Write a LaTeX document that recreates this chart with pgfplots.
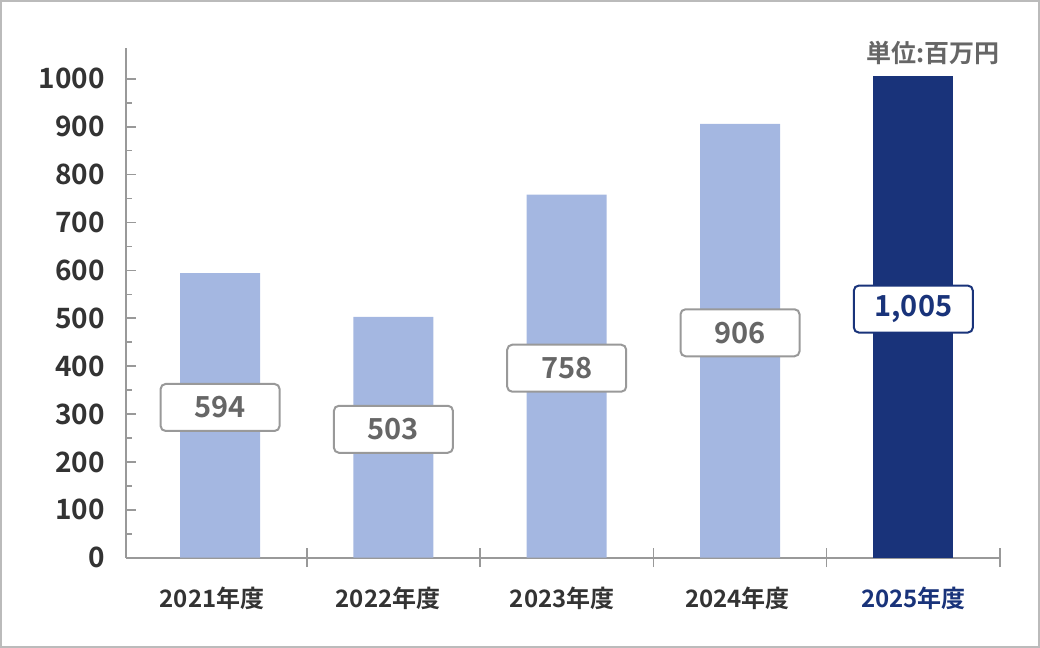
\documentclass[border=0pt]{standalone}
\usepackage{fontspec}
\setmainfont{Noto Sans CJK JP}[BoldFont={Noto Sans CJK JP Bold}]
\usepackage{pgfplots}
\pgfplotsset{compat=1.18}
\definecolor{lightbar}{HTML}{A4B7E1}
\definecolor{navy}{HTML}{19337A}
\definecolor{axisgray}{HTML}{999999}
\definecolor{ticktext}{HTML}{333333}
\definecolor{boxtext}{HTML}{666666}
\definecolor{boxgray}{HTML}{999999}
\definecolor{framegray}{HTML}{BBBBBB}
\begin{document}
\begin{tikzpicture}
\useasboundingbox (-63pt,-45.15pt) rectangle (457pt,278.85pt);
\draw[framegray, line width=1pt] (-62.5pt,-44.65pt) rectangle (456.5pt,278.35pt);
\begin{axis}[
  at={(0,0)}, anchor=south west,
  scale only axis, width=437pt, height=255pt,
  xmin=-0.543, xmax=4.5, ymin=0, ymax=1065,
  clip=false,
  axis x line=bottom, axis y line=left,
  axis line style={-, draw=axisgray, line width=1pt},
  tick style={draw=axisgray, line width=0.8pt},
  tick align=inside,
  major tick length=5pt, minor tick length=3pt,
  ytick={0,100,...,1000},
  minor ytick={50,150,...,950},
  xtick={-0.046,0.969,1.974,2.986,4.0},
  xtick style={draw=none},
  xticklabels={\textcolor{ticktext}{2021年度},\textcolor{ticktext}{2022年度},\textcolor{ticktext}{2023年度},\textcolor{ticktext}{2024年度},\textcolor{navy}{2025年度}},
  extra x ticks={0.5,1.5,2.5,3.5,4.5},
  extra x tick labels={},
  extra x tick style={tick align=center, major tick length=9.5pt, xtick style={draw=axisgray, line width=0.8pt}},
  xticklabel style={anchor=center, inner sep=0pt, yshift=-20.5pt, font=\bfseries\fontsize{12}{14}\selectfont},
  yticklabel style={anchor=east, inner sep=0pt, xshift=-10.5pt, text=ticktext, font=\bfseries\fontsize{14}{16}\selectfont, /pgf/number format/1000 sep={}},
  /pgf/number format/assume math mode=true,
]
\addplot[ybar, bar width=40pt, bar shift=0pt, fill=lightbar, draw=none,
  visualization depends on={rawy \as \rawy},
  nodes near coords={\pgfmathprintnumber[1000 sep={,}]{\rawy}},
  every node near coord/.append style={anchor=center, yshift={4pt-\rawy*0.119718pt}, draw=boxgray, fill=white, rounded corners=2.5pt, line width=1pt, minimum width=59.5pt, minimum height=23.5pt, inner sep=0pt, text=boxtext, font=\bfseries\fontsize{14.5}{16}\selectfont}]
  coordinates {(0,594) (1,503) (2,758) (3,906)};
\addplot[ybar, bar width=40pt, bar shift=0pt, fill=navy, draw=none,
  visualization depends on={rawy \as \rawy},
  nodes near coords={\pgfmathprintnumber[1000 sep={,}]{\rawy}},
  every node near coord/.append style={anchor=center, yshift={4pt-\rawy*0.119718pt}, draw=navy, fill=white, rounded corners=2.5pt, line width=1pt, minimum width=59.5pt, minimum height=23.5pt, inner sep=0pt, text=navy, font=\bfseries\fontsize{14.5}{16}\selectfont}]
  coordinates {(4,1005)};
\node[anchor=east, inner sep=0pt, text=boxtext, font=\bfseries\fontsize{12.5}{14}\selectfont] at (rel axis cs:1,1) [yshift=-2.5pt] {単位:百万円};
\end{axis}
\end{tikzpicture}
\end{document}
